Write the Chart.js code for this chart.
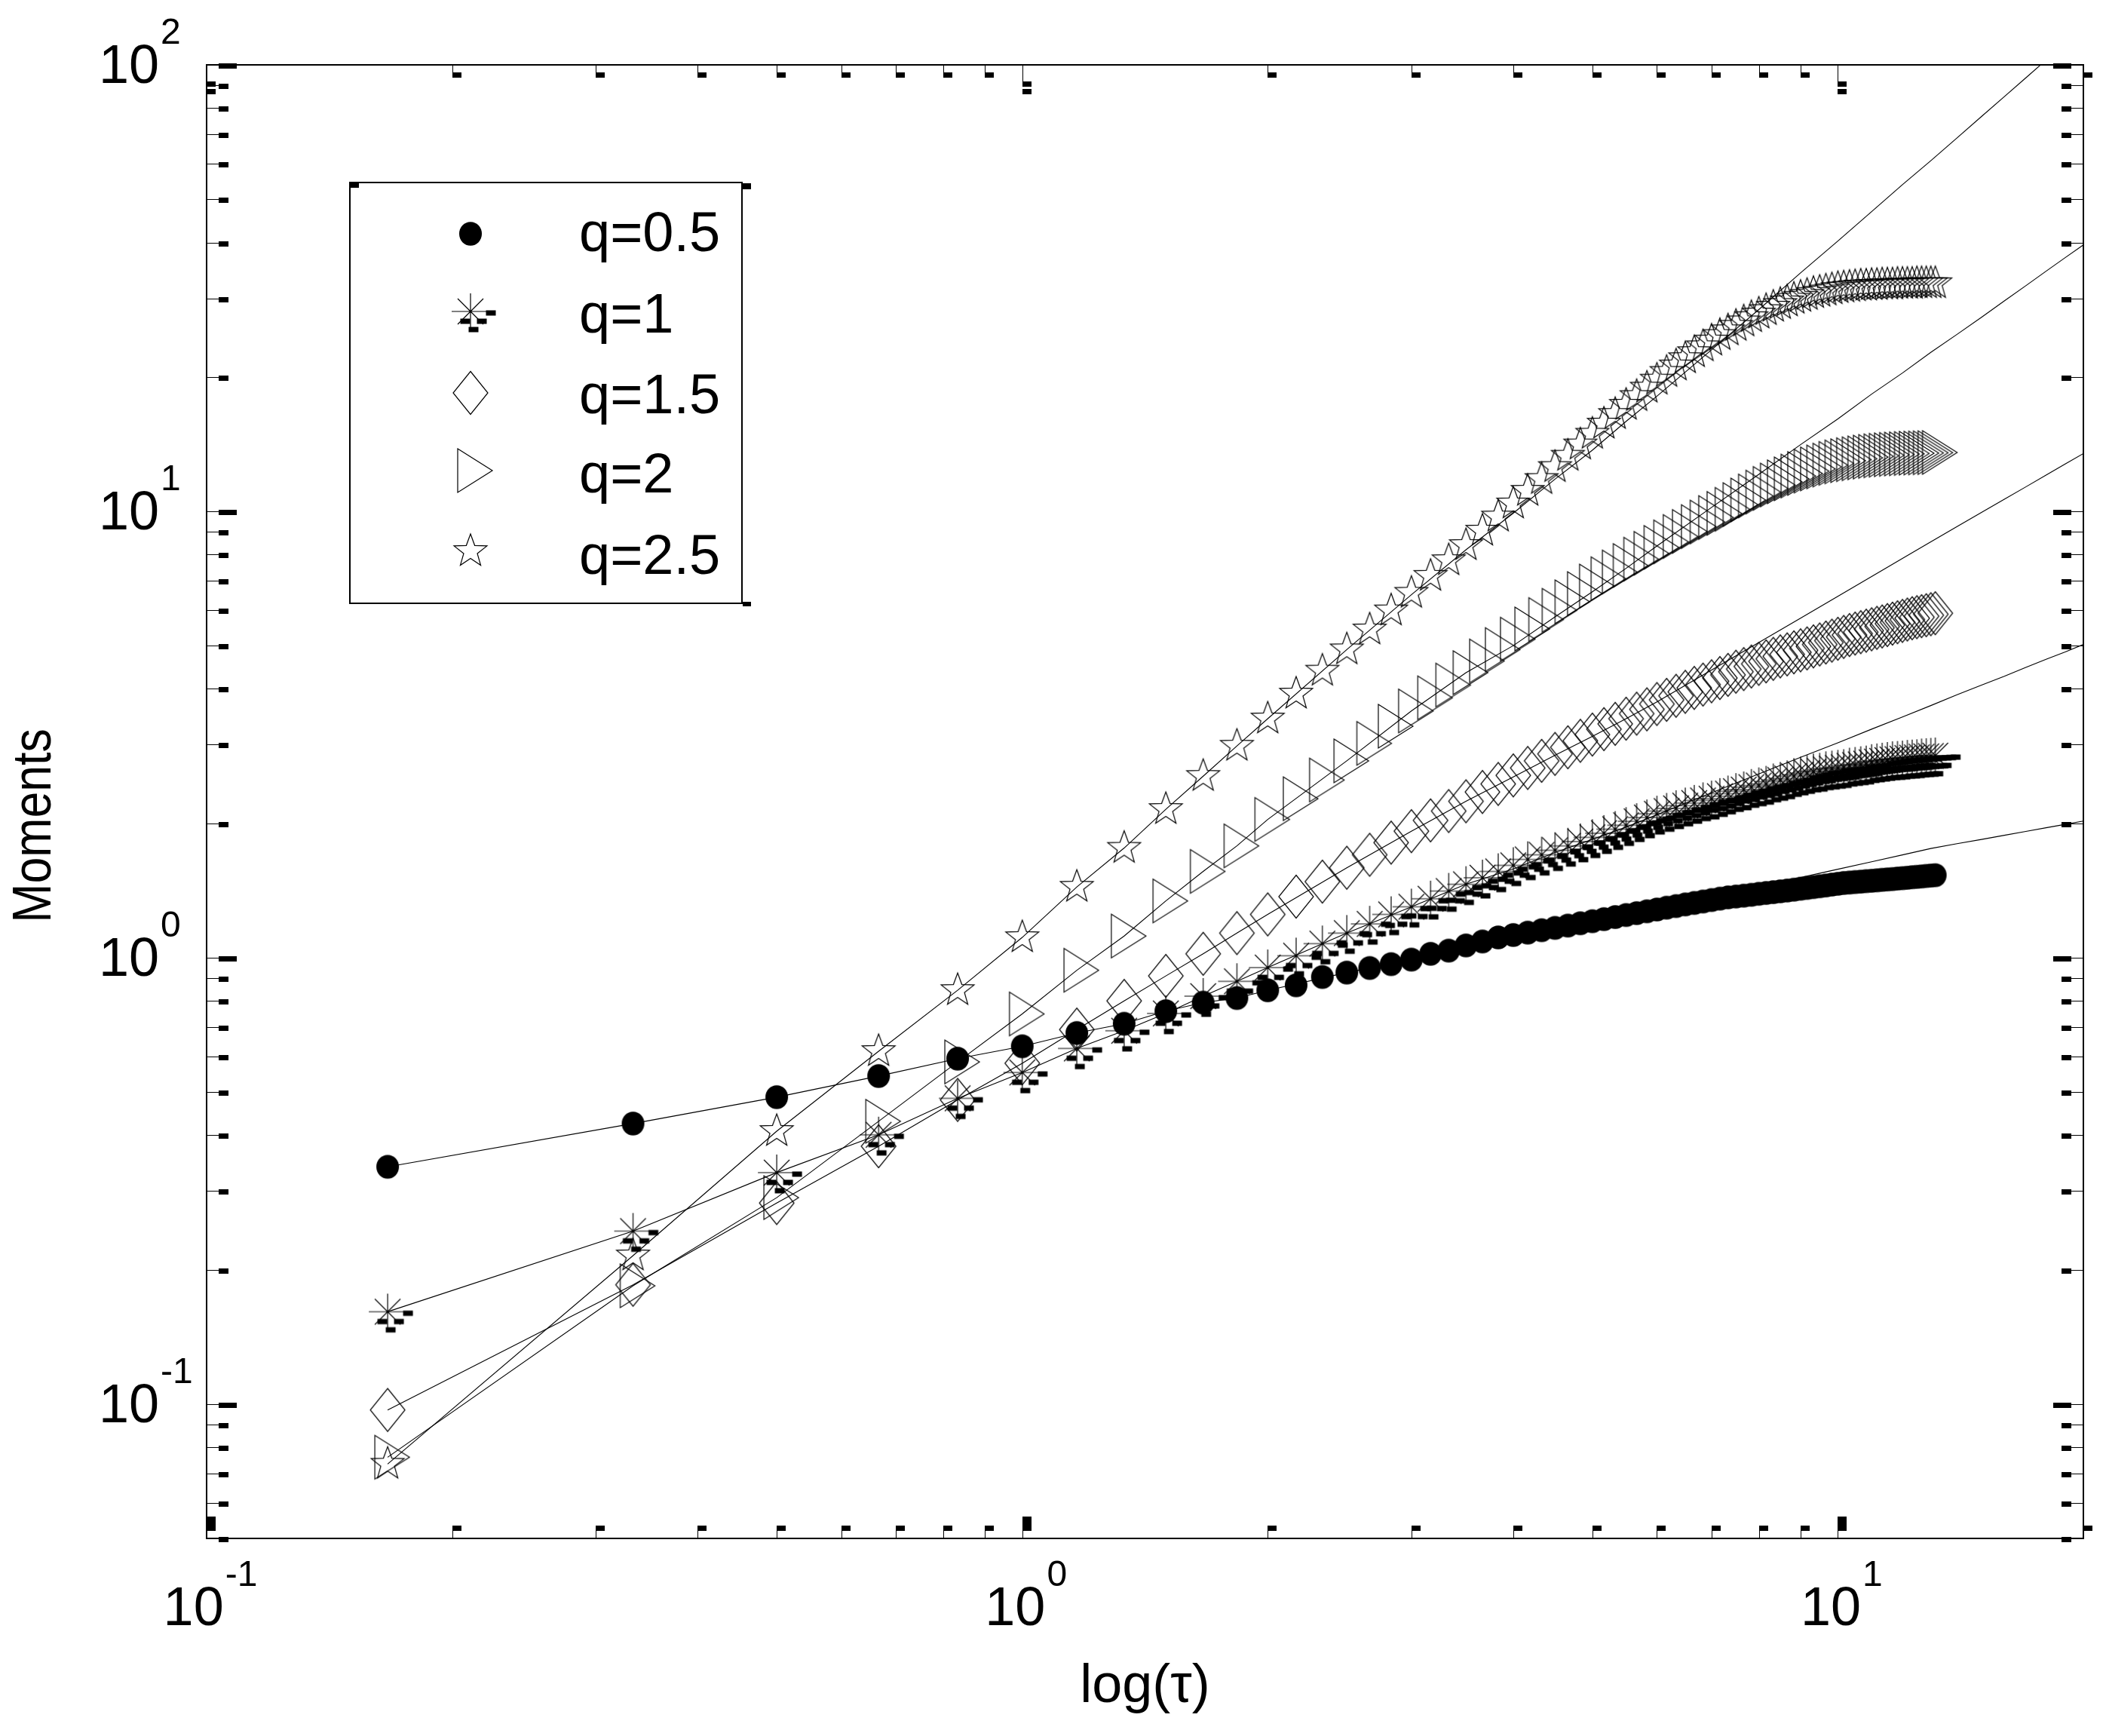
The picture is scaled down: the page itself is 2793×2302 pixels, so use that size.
<!DOCTYPE html>
<html><head><meta charset="utf-8">
<script src="https://cdn.jsdelivr.net/npm/chart.js@4.4.1/dist/chart.umd.min.js"></script>
<style>html,body{margin:0;padding:0;background:#fff;overflow:hidden}canvas{display:block}</style>
</head><body>
<canvas id="c" width="2793" height="2302"></canvas>
<script>
// ---------- data ----------
const tau = [0.1667,0.3333,0.5,0.6667,0.8333,1,1.1667,1.3333,1.5,1.6667,1.8333,2,2.1667,2.3333,2.5,2.6667,2.8333,3,3.1667,3.3333,3.5,3.6667,3.8333,4,4.1667,4.3333,4.5,4.6667,4.8333,5,5.1667,5.3333,5.5,5.6667,5.8333,6,6.1667,6.3333,6.5,6.6667,6.8333,7,7.1667,7.3333,7.5,7.6667,7.8333,8,8.1667,8.3333,8.5,8.6667,8.8333,9,9.1667,9.3333,9.5,9.6667,9.8333,10,10.1667,10.3333,10.5,10.6667,10.8333,11,11.1667,11.3333,11.5,11.6667,11.8333,12,12.1667,12.3333,12.5,12.6667,12.8333,13,13.1667];
const m05 = [0.340,0.425,0.487,0.543,0.594,0.633,0.678,0.711,0.759,0.793,0.812,0.845,0.867,0.905,0.926,0.948,0.967,0.990,1.020,1.037,1.065,1.087,1.110,1.124,1.138,1.152,1.166,1.180,1.194,1.207,1.220,1.233,1.246,1.258,1.270,1.282,1.294,1.305,1.316,1.326,1.336,1.346,1.356,1.365,1.371,1.377,1.383,1.390,1.396,1.402,1.408,1.414,1.420,1.427,1.433,1.439,1.445,1.451,1.458,1.464,1.470,1.473,1.477,1.480,1.484,1.487,1.490,1.494,1.497,1.500,1.504,1.507,1.510,1.514,1.517,1.520,1.524,1.527,1.530];
const m1 = [0.161,0.244,0.330,0.401,0.484,0.553,0.626,0.686,0.750,0.820,0.885,0.950,1.010,1.075,1.135,1.190,1.250,1.300,1.355,1.410,1.460,1.510,1.560,1.610,1.660,1.700,1.740,1.780,1.820,1.860,1.900,1.940,1.980,2.020,2.060,2.100,2.130,2.160,2.190,2.220,2.250,2.270,2.300,2.330,2.360,2.380,2.410,2.430,2.450,2.480,2.500,2.520,2.550,2.570,2.590,2.610,2.620,2.640,2.650,2.660,2.670,2.690,2.700,2.710,2.720,2.740,2.750,2.760,2.770,2.780,2.785,2.790,2.800,2.805,2.810,2.820,2.825,2.830,2.835];
const m15 = [0.097,0.185,0.282,0.378,0.480,0.580,0.690,0.800,0.910,1.020,1.135,1.250,1.370,1.480,1.590,1.700,1.810,1.920,2.030,2.130,2.240,2.350,2.450,2.560,2.660,2.760,2.860,2.960,3.060,3.160,3.250,3.340,3.430,3.520,3.600,3.700,3.780,3.860,3.940,4.020,4.090,4.160,4.230,4.300,4.370,4.430,4.490,4.550,4.610,4.670,4.730,4.780,4.830,4.880,4.930,4.980,5.030,5.080,5.130,5.180,5.230,5.280,5.320,5.360,5.400,5.440,5.480,5.520,5.560,5.600,5.640,5.680,5.720,5.760,5.790,5.820,5.850,5.880,5.910];
const m2 = [0.076,0.184,0.290,0.430,0.584,0.748,0.937,1.118,1.340,1.560,1.780,2.040,2.270,2.500,2.760,3.020,3.300,3.570,3.820,4.080,4.350,4.620,4.900,5.170,5.450,5.720,6.000,6.270,6.540,6.800,7.060,7.310,7.560,7.810,8.050,8.300,8.540,8.780,9.010,9.240,9.460,9.680,9.890,10.100,10.350,10.600,10.820,11.040,11.250,11.450,11.640,11.820,11.990,12.150,12.300,12.440,12.570,12.690,12.800,12.900,12.980,13.050,13.110,13.170,13.220,13.270,13.310,13.350,13.380,13.410,13.430,13.450,13.470,13.490,13.500,13.510,13.520,13.530,13.540];
const m25 = [0.0734,0.215,0.4085,0.617,0.845,1.11,1.44,1.76,2.15,2.55,2.98,3.43,3.90,4.39,4.90,5.43,5.99,6.56,7.16,7.76,8.39,9.04,9.72,10.40,11.10,11.80,12.55,13.30,14.10,14.90,15.70,16.50,17.30,18.10,18.90,19.70,20.50,21.20,22.00,22.70,23.40,24.10,24.80,25.40,26.00,26.60,27.20,27.70,28.20,28.70,29.10,29.50,29.90,30.20,30.50,30.80,31.00,31.20,31.40,31.60,31.70,31.80,31.90,32.00,32.00,32.10,32.10,32.20,32.20,32.20,32.30,32.30,32.30,32.30,32.40,32.40,32.40,32.40,32.40];

const tauFit = [0.1667,0.3333,0.5,0.6667,0.8333,1,1.1667,1.3333,1.5,1.6667,1.8333,2,2.5,3,3.5,4,4.5,5,5.5,6,7,8,9,10,11,12,13,14,15,16,17,18,19,20];
const f05 = [0.340,0.425,0.487,0.543,0.594,0.633,0.678,0.711,0.759,0.793,0.812,0.845,0.926,0.990,1.065,1.124,1.166,1.207,1.246,1.282,1.365,1.441,1.512,1.578,1.640,1.699,1.756,1.800,1.840,1.880,1.918,1.954,1.989,2.023];
const f1 = [0.161,0.244,0.330,0.401,0.484,0.553,0.626,0.686,0.750,0.820,0.885,0.950,1.135,1.300,1.460,1.580,1.720,1.840,1.960,2.090,2.340,2.580,2.810,3.030,3.250,3.460,3.670,3.880,4.080,4.270,4.470,4.660,4.840,5.030];
const f15 = [0.097,0.185,0.282,0.378,0.480,0.580,0.690,0.800,0.910,1.020,1.135,1.250,1.590,1.920,2.240,2.540,2.840,3.130,3.430,3.740,4.410,5.080,5.760,6.450,7.140,7.840,8.540,9.240,9.940,10.640,11.340,12.050,12.760,13.470];
const f2 = [0.076,0.184,0.290,0.430,0.584,0.748,0.937,1.118,1.340,1.560,1.780,2.040,2.760,3.570,4.350,5.000,5.800,6.600,7.450,8.360,10.200,12.100,14.100,16.100,18.300,20.400,22.700,24.900,27.200,29.600,32.000,34.500,37.000,39.500];
const f25 = [0.0734,0.215,0.4085,0.617,0.845,1.11,1.44,1.76,2.15,2.55,2.98,3.43,4.9,6.5,8.2,9.9,11.8,13.7,15.9,18.1,23.0,28.3,34.2,40.3,46.9,53.9,61.0,68.6,76.6,84.9,93.5,102.5,111.7,121.0];

const seriesLabels = ['q=0.5','q=1','q=1.5','q=2','q=2.5'];
const xTitle = 'log(\u03C4)';
const yTitle = 'Moments';
const xMajor = [0.1, 1, 10];
const xMajorExp = ['-1','0','1'];
const yMajor = [0.1, 1, 10, 100];
const yMajorExp = ['-1','0','1','2'];
const xMinor = [0.2,0.3,0.4,0.5,0.6,0.7,0.8,0.9,2,3,4,5,6,7,8,9,20];
const yMinor = [0.05,0.06,0.07,0.08,0.09,0.2,0.3,0.4,0.5,0.6,0.7,0.8,0.9,2,3,4,5,6,7,8,9,20,30,40,50,60,70,80,90];

// ---------- marker symbols ----------
const FONT = '"Liberation Sans", Arial, Helvetica, sans-serif';
function mkSym(size, fn){
  const c=document.createElement('canvas'); c.width=size; c.height=size;
  const g=c.getContext('2d'); g.translate(size/2,size/2);
  g.strokeStyle='#000'; g.fillStyle='#000'; g.lineWidth=1.2; fn(g); return c;
}
const symCircle = mkSym(36, g=>{ g.beginPath(); g.ellipse(0,0,15,15.8,0,0,Math.PI*2); g.fill(); });
const symAst = mkSym(92, g=>{
  g.beginPath();
  g.moveTo(-25,0); g.lineTo(25,0); g.moveTo(0,-24); g.lineTo(0,24);
  g.moveTo(-17,-17); g.lineTo(17,17); g.moveTo(-17,17); g.lineTo(17,-17);
  g.stroke();
  [[27,2],[-7,13],[15,13],[4,24]].forEach(([x,y])=>g.fillRect(x-6.5,y-3.5,13,7));
});
const symDiamond = mkSym(64, g=>{ g.beginPath(); g.moveTo(0,-28.5); g.lineTo(23,0); g.lineTo(0,28.5); g.lineTo(-23,0); g.closePath(); g.stroke(); });
const symTri = mkSym(68, g=>{ g.beginPath(); g.moveTo(-17,-29); g.lineTo(29,0); g.lineTo(-17,29); g.closePath(); g.stroke(); });
const symStar = mkSym(56, g=>{
  g.beginPath();
  for(let i=0;i<10;i++){ const r = i%2===0?23:9.5; const a = -Math.PI/2 + i*Math.PI/5; const px=r*Math.cos(a), py=r*Math.sin(a); if(i===0) g.moveTo(px,py); else g.lineTo(px,py); }
  g.closePath(); g.stroke();
});
const syms = [symCircle, symAst, symDiamond, symTri, symStar];
const markerSeries = [m05, m1, m15, m2, m25];
const fitSeries = [f05, f1, f15, f2, f25];

const datasets = [];
markerSeries.forEach((arr,i)=>{
  datasets.push({label: seriesLabels[i], data: arr.map((v,j)=>({x:tau[j], y:v})), showLine:false, pointStyle: syms[i], pointRadius:5, borderColor:'#000', backgroundColor:'#000'});
});
fitSeries.forEach((arr,i)=>{
  datasets.push({label: seriesLabels[i]+' fit', data: arr.map((v,j)=>({x:tauFit[j], y:v})), showLine:true, pointRadius:0, borderColor:'#000', borderWidth:1.1, tension:0, fill:false});
});

// ---------- plugins ----------
const framePlugin = {
  id:'frame',
  afterDraw(chart){
    const {ctx, chartArea:a, scales:{x, y}} = chart;
    ctx.save();
    ctx.strokeStyle='#000'; ctx.fillStyle='#000'; ctx.lineWidth=2;
    ctx.strokeRect(a.left, a.top, a.right-a.left, a.bottom-a.top);
    ctx.lineWidth=1;
    const tick = (v, major, isX) => {
      if(isX){
        const px = Math.round(x.getPixelForValue(v));
        const L = major?29:17;
        ctx.beginPath(); ctx.moveTo(px+0.5,a.bottom); ctx.lineTo(px+0.5,a.bottom-L); ctx.stroke();
        ctx.fillRect(px, a.bottom-L, 12, major?19:7);
        ctx.beginPath(); ctx.moveTo(px+0.5,a.top); ctx.lineTo(px+0.5,a.top+L); ctx.stroke();
        ctx.fillRect(px, a.top+L-7, 12, 7);
        if(major) ctx.fillRect(px, a.top+L+3, 12, 7);
      } else {
        const py = Math.round(y.getPixelForValue(v));
        ctx.beginPath(); ctx.moveTo(a.left,py+0.5); ctx.lineTo(a.left+17,py+0.5); ctx.stroke();
        ctx.fillRect(a.left+16, py-2, major?24:13, 7);
        ctx.beginPath(); ctx.moveTo(a.right,py+0.5); ctx.lineTo(a.right-17,py+0.5); ctx.stroke();
        ctx.fillRect(a.right-16-(major?24:13), py-2, major?24:13, 7);
      }
    };
    xMinor.forEach(v=>tick(v,false,true));
    xMajor.forEach(v=>tick(v,true,true));
    yMinor.forEach(v=>tick(v,false,false));
    yMajor.forEach(v=>tick(v,true,false));
    // tick labels
    ctx.fillStyle='#000';
    ctx.textBaseline='alphabetic';
    yMajor.forEach((v,i)=>{
      const py = y.getPixelForValue(v);
      ctx.font = '72px '+FONT; ctx.textAlign='right';
      ctx.fillText('10', a.left-63, py+24);
      ctx.font = '48px '+FONT; ctx.textAlign='left';
      ctx.fillText(yMajorExp[i], a.left-61, py-28);
    });
    xMajor.forEach((v,i)=>{
      const px = x.getPixelForValue(v);
      ctx.font = '72px '+FONT; const w1 = ctx.measureText('10').width;
      ctx.font = '48px '+FONT; const w2 = ctx.measureText(xMajorExp[i]).width;
      const left = px + 5 - (w1+w2+2)/2;
      ctx.font = '72px '+FONT; ctx.textAlign='left';
      ctx.fillText('10', left, a.bottom+115);
      ctx.font = '48px '+FONT;
      ctx.fillText(xMajorExp[i], left+w1+2, a.bottom+63);
    });
    // y axis title (slightly condensed, as in the reference)
    ctx.save();
    ctx.translate(47, 1095);
    ctx.rotate(-Math.PI/2);
    ctx.scale(0.87, 1);
    ctx.font = '72px '+FONT; ctx.textAlign='center'; ctx.textBaseline='middle';
    ctx.fillText(yTitle, 0, 0);
    ctx.restore();
    // legend
    const L = {x1:464, y1:242, x2:984, y2:800};
    ctx.lineWidth=2;
    ctx.strokeRect(L.x1, L.y1, L.x2-L.x1, L.y2-L.y1);
    ctx.fillRect(L.x1+1, L.y1+1, 11, 6);
    ctx.fillRect(L.x2+1, L.y1+1, 11, 8);
    ctx.fillRect(L.x2+1, L.y2-2, 11, 6);
    const symY = [310, 413, 521, 624, 731];
    const textY = [333, 441, 548, 653, 761];
    ctx.font = '74px '+FONT; ctx.textAlign='left'; ctx.textBaseline='alphabetic';
    seriesLabels.forEach((lab,i)=>{
      const s = syms[i];
      ctx.drawImage(s, 624 - s.width/2, symY[i] - s.height/2);
      ctx.fillText(lab, 768, textY[i]);
    });
    ctx.restore();
  }
};

new Chart(document.getElementById('c'), {
  type:'scatter',
  data:{datasets},
  options:{
    responsive:false, animation:false, devicePixelRatio:1, events:[],
    layout:{padding:{top:86, right:30, left:0, bottom:0}},
    plugins:{legend:{display:false}, tooltip:{enabled:false}},
    scales:{
      x:{type:'logarithmic', min:0.1, max:20,
         grid:{display:false, drawTicks:false}, border:{display:false},
         ticks:{display:false},
         title:{display:true, text:xTitle, color:'#000', font:{family:FONT, size:72}, padding:{top:154, bottom:22}},
         afterFit(s){ s.height = 262; }},
      y:{type:'logarithmic', min:0.05, max:100,
         grid:{display:false, drawTicks:false}, border:{display:false},
         ticks:{display:false},
         title:{display:false, text:yTitle},
         afterFit(s){ s.width = 274; }}
    }
  },
  plugins:[framePlugin]
});
</script>
</body></html>
